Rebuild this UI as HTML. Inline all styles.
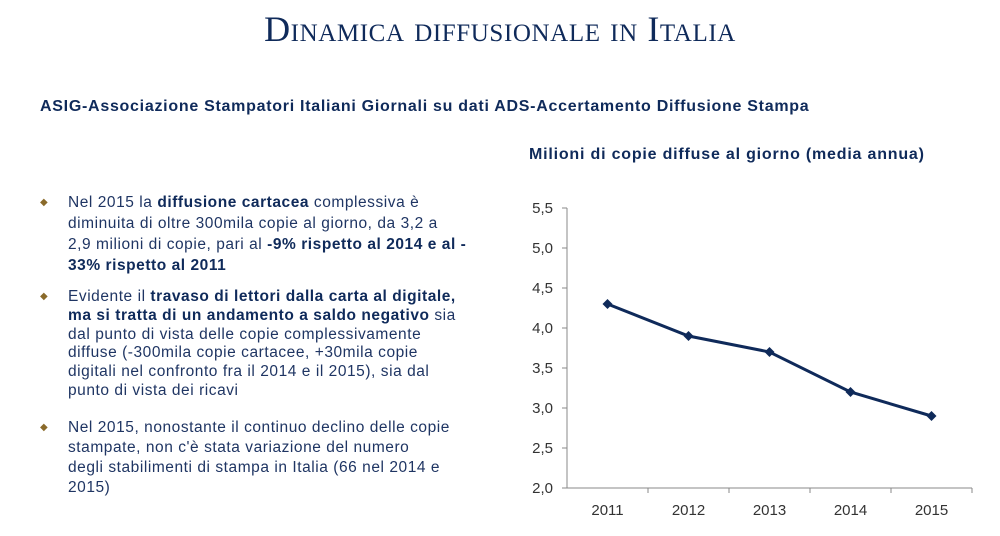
<!DOCTYPE html>
<html><head><meta charset="utf-8"><style>
body{margin:0;width:1000px;height:536px;background:#fff;position:relative;overflow:hidden;font-family:"Liberation Sans",sans-serif;color:#1f3563}
#title{position:absolute;top:8px;left:0;width:1000px;text-align:center;font-family:"Liberation Serif",serif;font-variant:small-caps;font-size:36px;color:#0f2a5a;letter-spacing:0.6px}
#sub{position:absolute;top:98px;left:40px;font-weight:bold;font-size:16px;color:#0f2a5a;letter-spacing:0.72px;white-space:nowrap}
#ctitle{position:absolute;top:146px;left:529px;font-weight:bold;font-size:16px;color:#0f2a5a;letter-spacing:0.8px;white-space:nowrap}
ul{position:absolute;top:192px;left:40px;width:460px;margin:0;padding:0;list-style:none;font-size:15.5px;line-height:21px;letter-spacing:0.55px;white-space:nowrap}
li{position:relative;padding-left:28px;margin-bottom:12px}
li#b2{line-height:18.8px;margin-bottom:17px}
li#b3{line-height:20px}
li::before{content:"◆";position:absolute;left:0;top:0;font-size:10px;color:#8a6a2a}
b{color:#0f2a5a}
</style></head><body>
<div id="title">Dinamica diffusionale in Italia</div>
<div id="sub">ASIG-Associazione Stampatori Italiani Giornali su dati ADS-Accertamento Diffusione Stampa</div>
<ul>
<li id="b1">Nel 2015 la <b>diffusione cartacea</b> complessiva è<br>diminuita di oltre 300mila copie al giorno, da 3,2 a<br>2,9 milioni di copie, pari al <b>-9% rispetto al 2014 e al -<br>33% rispetto al 2011</b></li>
<li id="b2">Evidente il <b>travaso di lettori dalla carta al digitale,<br>ma si tratta di un andamento a saldo negativo</b> sia<br>dal punto di vista delle copie complessivamente<br>diffuse (-300mila copie cartacee, +30mila copie<br>digitali nel confronto fra il 2014 e il 2015), sia dal<br>punto di vista dei ricavi</li>
<li id="b3">Nel 2015, nonostante il continuo declino delle copie<br>stampate, non c'è stata variazione del numero<br>degli stabilimenti di stampa in Italia (66 nel 2014 e<br>2015)</li>
</ul>
<div id="ctitle">Milioni di copie diffuse al giorno (media annua)</div>
<svg id="chart" width="1000" height="536" style="position:absolute;top:0;left:0"></svg>
<script>
const categories=["2011","2012","2013","2014","2015"];
const values=[4.3,3.9,3.7,3.2,2.9];
const yTicks=[2.0,2.5,3.0,3.5,4.0,4.5,5.0,5.5];
const svg=document.getElementById('chart');const NS="http://www.w3.org/2000/svg";
const x0=567,bw=81,yMin=2,yMax=5.5,yB=488,yT=208;
const X=i=>x0+bw*(i+0.5);const Y=v=>yB-(v-yMin)/(yMax-yMin)*(yB-yT);
function mk(t,a){const e=document.createElementNS(NS,t);for(const k in a)e.setAttribute(k,a[k]);svg.appendChild(e);return e;}
let e=mk('line',{x1:x0,y1:yT,x2:x0,y2:yB,stroke:'#888'});


e=mk('line',{x1:x0,y1:yB,x2:x0+bw*categories.length,y2:yB,stroke:'#888'});


yTicks.forEach(v=>{mk('line',{x1:x0-5,y1:Y(v),x2:x0,y2:Y(v),stroke:'#888'});
const t=mk('text',{x:x0-14,y:Y(v)+5,'text-anchor':'end','font-size':15,fill:'#333','font-family':'Liberation Sans'});t.textContent=v.toFixed(1).replace('.',',');

});
categories.forEach((c,i)=>{mk('line',{x1:x0+bw*(i+1),y1:yB,x2:x0+bw*(i+1),y2:yB+5,stroke:'#888'});
const t=mk('text',{x:X(i),y:yB+27,'text-anchor':'middle','font-size':15,fill:'#333','font-family':'Liberation Sans'});t.textContent=c;

});
e=mk('polyline',{points:values.map((v,i)=>X(i)+','+Y(v)).join(' '),fill:'none',stroke:'#0f2a5a','stroke-width':3});


values.forEach((v,i)=>{const p=mk('path',{d:`M${X(i)},${Y(v)-5}l5,5l-5,5l-5,-5z`,fill:'#0f2a5a'});

});
</script>
</body></html>
